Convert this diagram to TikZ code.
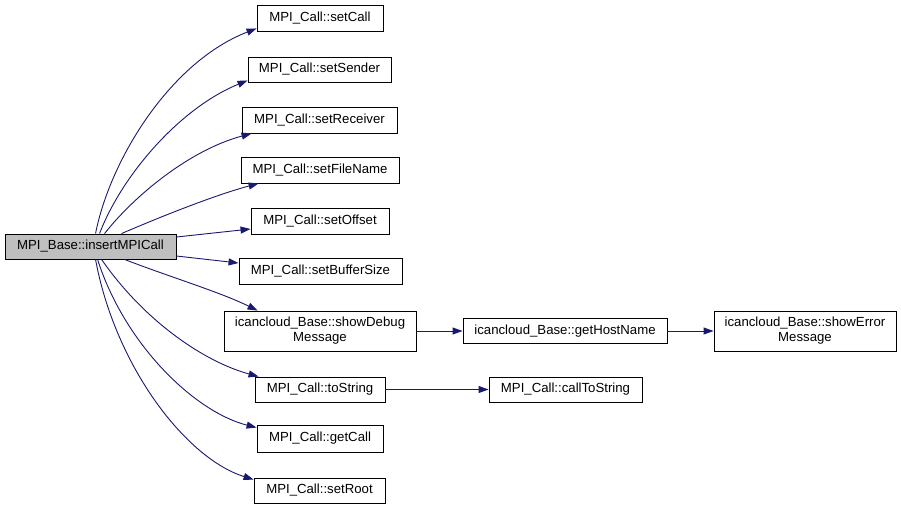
\documentclass[tikz,border=0pt]{standalone}
\usepackage{fontspec}
\setmainfont{Liberation Sans}
\usetikzlibrary{arrows.meta}
\definecolor{edgeblue}{RGB}{25,25,112}
\definecolor{maingray}{RGB}{191,191,191}
\begin{document}
\begin{tikzpicture}[x=1pt,y=-1pt,
  fnbox/.style={draw=black, line width=0.9pt, fill=white, inner sep=0pt, minimum height=26pt,
    align=center, font=\fontsize{13.2}{15}\selectfont},
  callarrow/.style={draw=edgeblue, line width=0.9pt, -{Triangle[length=10pt,width=7pt]}}]
\useasboundingbox (0,0) rectangle (901,509);
\fill[white] (0,0) rectangle (901,509);
% nodes
\node[fnbox, fill=maingray, minimum width=171pt, minimum height=25pt] (main) at (90.5,246.5) {MPI\_Base::insertMPICall};
\node[fnbox, minimum width=126pt] (setCall) at (320,18) {MPI\_Call::setCall};
\node[fnbox, minimum width=143pt, minimum height=25pt] (setSender) at (319.5,69.5) {MPI\_Call::setSender};
\node[fnbox, minimum width=155pt] (setReceiver) at (319.5,120) {MPI\_Call::setReceiver};
\node[fnbox, minimum width=158pt] (setFileName) at (320,170) {MPI\_Call::setFileName};
\node[fnbox, minimum width=138pt] (setOffset) at (320,221) {MPI\_Call::setOffset};
\node[fnbox, minimum width=163pt] (setBufferSize) at (320.5,271) {MPI\_Call::setBufferSize};
\node[fnbox, minimum width=192pt, minimum height=40pt] (showDebug) at (320,331) {icancloud\_Base::showDebug\\Message};
\node[fnbox, minimum width=130pt, minimum height=25pt] (toString) at (320,389.5) {MPI\_Call::toString};
\node[fnbox, minimum width=126pt, minimum height=27pt] (getCall) at (320,438.5) {MPI\_Call::getCall};
\node[fnbox, minimum width=131pt, minimum height=25pt] (setRoot) at (319.5,490.5) {MPI\_Call::setRoot};
\node[fnbox, minimum width=204pt, minimum height=25pt] (getHostName) at (565,331) {icancloud\_Base::getHostName};
\node[fnbox, minimum width=182pt, minimum height=40pt] (showError) at (805,331) {icancloud\_Base::showError\\Message};
\node[fnbox, minimum width=153pt, minimum height=25pt] (callToString) at (565.5,389.5) {MPI\_Call::callToString};
% edges
\draw[callarrow] ([xshift=91pt]main.north west) .. controls (110,160) and (170,62) .. ([yshift=3pt]setCall.south west);
\draw[callarrow] ([xshift=95pt]main.north west) .. controls (122,175) and (180,108) .. ([yshift=2pt]setSender.south west);
\draw[callarrow] ([xshift=100pt]main.north west) .. controls (135,195) and (190,150) .. ([xshift=10pt]setReceiver.south west);
\draw[callarrow] ([xshift=117pt]main.north west) .. controls (160,217) and (215,195) .. ([xshift=18pt]setFileName.south west);
\draw[callarrow] ([yshift=9.5pt]main.east) -- ([yshift=-8pt]setOffset.west);
\draw[callarrow] ([yshift=-9.5pt]main.east) -- ([yshift=8pt]setBufferSize.west);
\draw[callarrow] ([xshift=120pt]main.south west) .. controls (170,277) and (220,292) .. ([xshift=34pt]showDebug.north west);
\draw[callarrow] ([xshift=97pt]main.south west) .. controls (145,322) and (205,362) .. ([xshift=4pt]toString.north west);
\draw[callarrow] ([xshift=93pt]main.south west) .. controls (125,345) and (195,412) .. ([yshift=-3pt]getCall.north west);
\draw[callarrow] ([xshift=91pt]main.south west) .. controls (115,365) and (185,458) .. ([yshift=-2pt]setRoot.north west);
\draw[callarrow] (showDebug.east) -- (getHostName.west);
\draw[callarrow] (getHostName.east) -- (showError.west);
\draw[callarrow] (toString.east) -- (callToString.west);
\end{tikzpicture}
\end{document}
